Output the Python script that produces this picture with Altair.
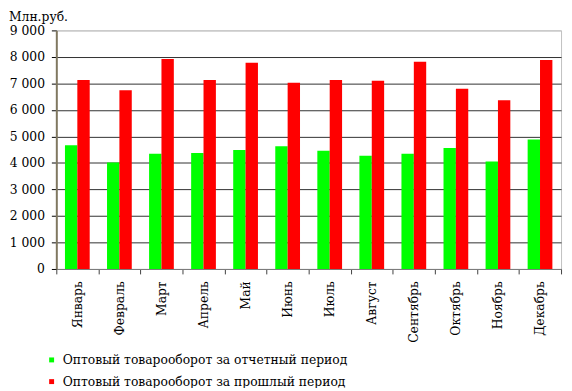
import altair as alt
import pandas as pd

months = ["Январь", "Февраль", "Март", "Апрель", "Май", "Июнь",
          "Июль", "Август", "Сентябрь", "Октябрь", "Ноябрь", "Декабрь"]
current = [4670, 4020, 4350, 4380, 4490, 4630, 4460, 4270, 4350, 4560, 4050, 4880]
previous = [7130, 6740, 7920, 7130, 7780, 7030, 7130, 7100, 7820, 6800, 6370, 7880]
series = ["Оптовый товарооборот за отчетный период",
          "Оптовый товарооборот за прошлый период"]
colors = ["#00ff00", "#ff0000"]
unit_label = ["Млн.руб."]

rows = []
for i, m in enumerate(months):
    rows.append({"month": m, "series": series[0], "value": current[i]})
    rows.append({"month": m, "series": series[1], "value": previous[i]})
df = pd.DataFrame(rows)

FONT = "DejaVu Serif"
FS = 12.5

bars = alt.Chart(df).mark_bar(stroke=None).encode(
    x=alt.X("month:N", sort=months,
            scale=alt.Scale(paddingInner=0, paddingOuter=0),
            axis=alt.Axis(title=None, labelAngle=270, tickBand="extent",
                          tickSize=5, labelPadding=7, domainColor="#808080",
                          domainWidth=1, tickColor="#404040",
                          labelFont=FONT, labelFontSize=FS, labelColor="black",
                          grid=False)),
    xOffset=alt.XOffset("series:N", sort=series,
                        scale=alt.Scale(paddingInner=0, paddingOuter=0.7)),
    y=alt.Y("value:Q", scale=alt.Scale(domain=[0, 9000]),
            axis=alt.Axis(title=None, values=list(range(0, 9001, 1000)),
                          labelExpr="replace(format(datum.value, ','), ',', ' ')",
                          tickSize=5, labelPadding=7, tickColor="black",
                          domainColor="#807860", domainWidth=2,
                          gridColor=alt.condition("datum.value == 9000",
                                                  alt.value("#c0c0c0"),
                                                  alt.value("#303030")),
                          labelFont=FONT, labelFontSize=FS, labelColor="black")),
    color=alt.Color("series:N", sort=series,
                    scale=alt.Scale(domain=series, range=colors),
                    legend=alt.Legend(title=None, orient="none", legendX=-11, legendY=328,
                                      symbolType="square", symbolSize=25,
                                      symbolStrokeWidth=0, labelOffset=5,
                                      labelFont=FONT, labelFontSize=FS,
                                      labelColor="black", rowPadding=9,
                                      padding=0, labelLimit=600)),
)

unit = alt.Chart(alt.Data(values=[{"t": t} for t in unit_label])).mark_text(
    align="left", baseline="alphabetic", font=FONT, fontSize=FS, color="black"
).encode(x=alt.value(-48), y=alt.value(-10), text="t:N")

chart = alt.layer(bars, unit).properties(
    width=512, height=242,
    autosize=alt.AutoSizeParams(type="none"),
    padding={"left": 49, "top": 20, "right": 3, "bottom": 118},
).configure(font=FONT).configure_view(stroke="#c0c0c0", strokeWidth=1)

chart.save("out.html", embed_options={"renderer": "svg", "actions": False})
